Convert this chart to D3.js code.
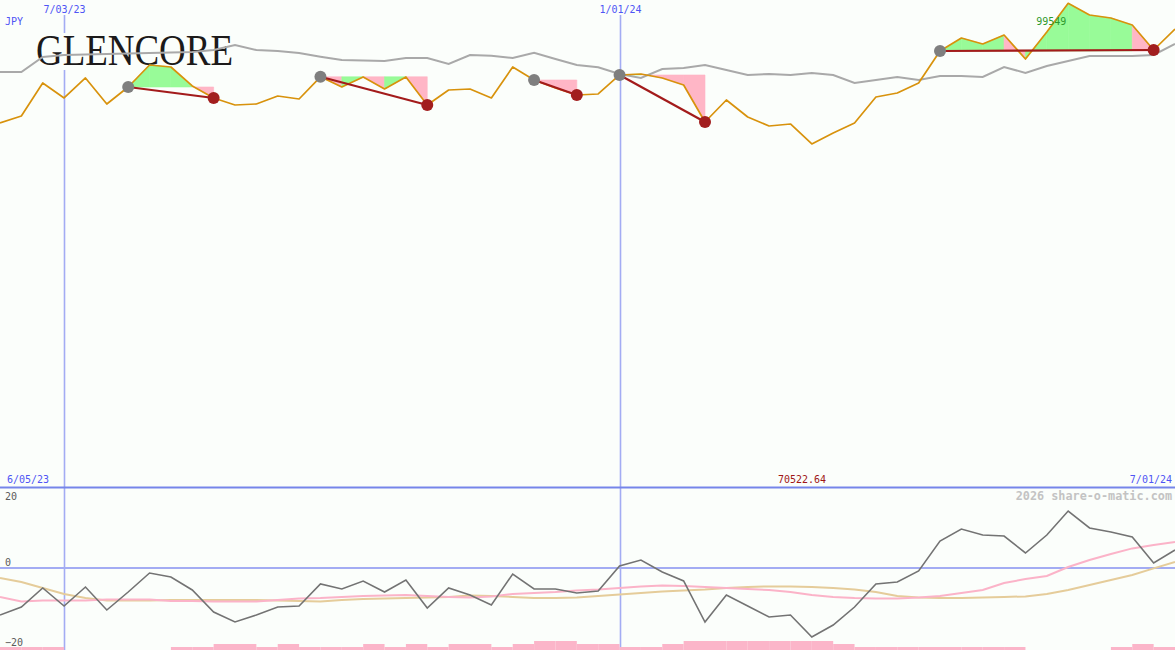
<!DOCTYPE html>
<html><head><meta charset="utf-8">
<script src="https://cdn.jsdelivr.net/npm/d3@7"></script>
<style>html,body{margin:0;padding:0;background:#fbfefb;}svg{display:block;}</style>
</head><body>
<svg id="c" width="1175" height="650"></svg>
<script>
// ---- data ----
const dates = ["2023-06-12","2023-06-19","2023-06-26","2023-07-03","2023-07-10","2023-07-17","2023-07-24","2023-07-31",
"2023-08-07","2023-08-14","2023-08-21","2023-08-28","2023-09-04","2023-09-11","2023-09-18","2023-09-25",
"2023-10-02","2023-10-09","2023-10-16","2023-10-23","2023-10-30","2023-11-06","2023-11-13","2023-11-20",
"2023-11-27","2023-12-04","2023-12-11","2023-12-18","2023-12-25","2024-01-01","2024-01-08","2024-01-15",
"2024-01-22","2024-01-29","2024-02-05","2024-02-12","2024-02-19","2024-02-26","2024-03-04","2024-03-11",
"2024-03-18","2024-03-25","2024-04-01","2024-04-08","2024-04-15","2024-04-22","2024-04-29","2024-05-06",
"2024-05-13","2024-05-20","2024-05-27","2024-06-03","2024-06-10","2024-06-17","2024-06-24","2024-07-01"];
const price = [92367,92787,94767,93867,95067,93507,94527,95847,95727,94587,93867,93447,93507,93987,93807,95139,
94527,95127,94407,95127,93447,94347,94407,93867,95727,94947,94467,94047,94107,95247,95307,95067,
94647,92427,93747,92727,92187,92307,91107,91767,92367,93927,94167,94767,96687,97467,97107,97647,
96207,97827,99549,98847,98667,98247,96747,98007];
const priceAvg = [95427,95427,96327,96447,96477,96507,96537,96567,96597,96627,96747,97047,96747,96687,96567,96345,
96147,96117,96087,96267,96267,95907,96447,96405,96267,96585,96207,95847,95709,95307,95067,95607,
95667,95847,95547,95247,95307,95247,95367,95247,94767,94947,95127,94947,95187,95187,95127,95727,
95367,95787,96087,96387,96387,96387,96447,97107];
const momentum = [-11.75,-9.75,-5,-9.5,-4.75,-10.5,-6,-1.25,-2.25,-5.5,-11,-13.5,-11.75,-9.75,-9.5,-4,
-5.25,-3.25,-6,-3,-10,-5,-6.75,-9.25,-1.5,-5.25,-5.25,-6.25,-5.75,0.5,2,-1,
-3.25,-13.5,-6.75,-9.5,-12.25,-11.75,-17.25,-14.25,-9.75,-4,-3.5,-0.75,6.75,9.75,8.25,8,
3.75,8.25,14.25,10,9,7.75,1.25,4.5];
const momFast = [-7.25,-8.4,-8.1,-8.1,-8.1,-7.9,-7.9,-7.9,-8.25,-8.25,-8.4,-8.4,-8.4,-8,-7.6,-7.5,
-7.25,-7,-6.9,-6.75,-7,-7.25,-7.4,-7.1,-6.5,-6.25,-6,-5.6,-5.4,-5,-4.6,-4.4,
-4.5,-4.75,-5,-5.25,-5.5,-6,-6.75,-7.25,-7.5,-7.6,-7.6,-7.4,-7,-6.25,-5.5,-3.75,
-2.75,-2,0.25,2,3.5,4.9,5.75,6.5];
const momSlow = [-2.5,-3.5,-5,-6.5,-7.5,-8.1,-8.1,-8.1,-8,-8,-8,-8,-8,-8.1,-8.25,-8.4,
-8,-7.75,-7.6,-7.5,-7.4,-7.25,-6.9,-7,-7.25,-7.5,-7.5,-7.4,-7,-6.6,-6.25,-5.9,
-5.6,-5.4,-5,-4.75,-4.6,-4.6,-4.75,-5,-5.4,-6,-7,-7.4,-7.5,-7.5,-7.4,-7.25,
-7.1,-6.5,-5.5,-4.25,-3,-1.75,-0.1,1.5];
const volumeLevel = [1,1,1,0,0,0,0,0,1,1,2,2,1,2,1,1,1,2,1,2,1,2,2,1,2,3,3,2,2,1,1,2,
3,3,3,3,3,3,3,2,1,1,1,1,1,1,1,1,0,0,0,0,1,2,1];
const tradeStart = ["2023-07-24","2023-09-25","2023-12-04","2024-01-01","2024-04-15"];
const tradeEnd   = ["2023-08-21","2023-10-30","2023-12-18","2024-01-29","2024-06-24"];
// per-week shading of each trade: "up" = green, "down" = pink
const tradeWeeks = [
  ["up","up","up","down"],
  ["down","up","down","up","down"],
  ["down","down"],
  ["up","down","down","down"],
  ["up","up","up","down","up","up","up","up","up","down"]
];
const markerDates = ["2023-07-03","2024-01-01"];
const markerLabels = ["7/03/23","1/01/24"];
const oscTicks = [20,0,-20];
const currency = "JPY";
const startLabel = "6/05/23", endLabel = "7/01/24";
const midValue = "70522.64", highValue = "99549";
const credit = "2026 share-o-matic.com";
const logoText = "GLENCORE";

// ---- scales ----
const W = 1175, H = 650, DIV = 487;
const parse = d3.utcParse("%Y-%m-%d");
const D = dates.map(parse);
const idx = new Map(dates.map((d,i)=>[d,i]));
const x = d3.scaleUtc().domain([D[0], D[D.length-1]]).range([0, W]);
const yP = d3.scaleLinear().domain([70522.64, 99549]).range([DIV, 3.3]);
const yO = d3.scaleLinear().domain([-20, 20]).range([648, 488]);
const yB = d3.scaleLinear().domain([0, 3]).range([650, 641]);

const svg = d3.select("#c");
const mono = "DejaVu Sans Mono, monospace";
svg.append("rect").attr("width", W).attr("height", H).attr("fill", "#fbfefb");

// vertical date lines
markerDates.forEach((d,k)=>{
  const xx = Math.round(x(parse(d))) + 0.5;
  svg.append("line").attr("x1", xx).attr("x2", xx).attr("y1", 15).attr("y2", H)
    .attr("stroke", "#a3acf3").attr("stroke-width", 1.6);
  svg.append("text").attr("x", xx).attr("y", 12.5).attr("text-anchor","middle")
    .attr("font-family", mono).attr("font-size", 10).attr("fill", "#4f55f5").text(markerLabels[k]);
});

// logo
svg.append("rect").attr("x", 34).attr("y", 33).attr("width", 202).attr("height", 37).attr("fill", "#fbfefb");
svg.append("text").attr("x", 36).attr("y", 65).attr("font-family","Liberation Serif, DejaVu Serif, serif")
  .attr("font-size", 44).attr("textLength", 197).attr("lengthAdjust","spacingAndGlyphs")
  .attr("fill", "#1c1a1a").text(logoText);

// trade fills: area between price and entry level, week by week
const fillColor = {up: "#98fb98", down: "#ffb6c6"};
tradeStart.forEach((s,k)=>{
  const si = idx.get(s);
  const base = price[si];
  const area = d3.area().x(i=>x(D[i])).y0(yP(base)).y1(i=>yP(price[i]));
  tradeWeeks[k].forEach((c,j)=>{
    svg.append("path").datum([si+j, si+j+1]).attr("d", area)
      .attr("fill", fillColor[c]).attr("stroke", fillColor[c]).attr("stroke-width", 0.6);
  });
});

// average line
const lineP = d3.line().x((d,i)=>x(D[i])).y(d=>yP(d));
svg.append("path").datum(priceAvg).attr("d", lineP).attr("fill","none").attr("stroke","#a9a9a9").attr("stroke-width",2);
// price line
svg.append("path").datum(price).attr("d", lineP).attr("fill","none").attr("stroke","#d8920c").attr("stroke-width",1.7).attr("stroke-linejoin","round");

// trade lines and markers
tradeStart.forEach((s,k)=>{
  const si = idx.get(s), ei = idx.get(tradeEnd[k]);
  svg.append("line").attr("x1", x(D[si])).attr("y1", yP(price[si])).attr("x2", x(D[ei])).attr("y2", yP(price[ei]))
    .attr("stroke", "#a31b1b").attr("stroke-width", 2.2);
});
tradeStart.forEach((s,k)=>{
  const si = idx.get(s), ei = idx.get(tradeEnd[k]);
  svg.append("circle").attr("cx", x(D[si])).attr("cy", yP(price[si])).attr("r", 6).attr("fill", "#7f7f7f");
  svg.append("circle").attr("cx", x(D[ei])).attr("cy", yP(price[ei])).attr("r", 6).attr("fill", "#a21e1e");
});

// top labels
svg.append("text").attr("x", 5).attr("y", 25).attr("font-family", mono).attr("font-size", 10).attr("fill","#4f55f5").text(currency);
const hi = d3.maxIndex(price);
svg.append("text").attr("x", x(D[hi]) - 32).attr("y", 25).attr("font-family", mono).attr("font-size", 10).attr("fill","#2e9a2e").text(highValue);

// divider
svg.append("line").attr("x1",0).attr("x2",W).attr("y1",DIV+0.5).attr("y2",DIV+0.5).attr("stroke","#7685ea").attr("stroke-width",2);
svg.append("text").attr("x", 7).attr("y", 483).attr("font-family", mono).attr("font-size", 10).attr("fill","#4f55f5").text(startLabel);
svg.append("text").attr("x", 1172).attr("y", 483).attr("text-anchor","end").attr("font-family", mono).attr("font-size", 10).attr("fill","#4f55f5").text(endLabel);
svg.append("text").attr("x", 802).attr("y", 483).attr("text-anchor","middle").attr("font-family", mono).attr("font-size", 10).attr("fill","#a01616").text(midValue);
svg.append("text").attr("x", 1172).attr("y", 499.5).attr("text-anchor","end").attr("font-family", mono).attr("font-weight","bold").attr("font-size", 11.8).attr("fill","#c3c3c3").text(credit);

// oscillator zero line
svg.append("line").attr("x1",0).attr("x2",W).attr("y1",yO(0)).attr("y2",yO(0)).attr("stroke","#a3acf3").attr("stroke-width",2);
// tick labels
oscTicks.forEach(t=>{
  const yy = t === 20 ? yO(t) + 11.5 : yO(t) - 2;
  svg.append("text").attr("x", 5).attr("y", yy).attr("font-family", mono).attr("font-size", 10).attr("fill","#5a5a5a").text(t === -20 ? "\u221220" : String(t));
});

// volume bars
svg.append("g").selectAll("rect").data(volumeLevel).join("rect")
  .attr("x", (v,i)=>x(D[i])).attr("width", (v,i)=>x(D[i+1]) - x(D[i]))
  .attr("y", v=>yB(v)).attr("height", v=>yB(0) - yB(v)).attr("fill", "#fbb5c9");

// oscillator lines
const lineO = d3.line().x((d,i)=>x(D[i])).y(d=>yO(d));
svg.append("path").datum(momSlow).attr("d", lineO).attr("fill","none").attr("stroke","#e5cc9a").attr("stroke-width",2);
svg.append("path").datum(momFast).attr("d", lineO).attr("fill","none").attr("stroke","#fbb3c8").attr("stroke-width",2);
svg.append("path").datum(momentum).attr("d", lineO).attr("fill","none").attr("stroke","#737373").attr("stroke-width",1.6);
</script>
</body></html>
